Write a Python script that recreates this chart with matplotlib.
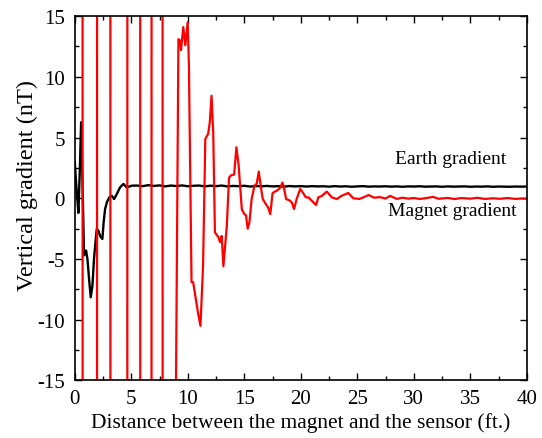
import matplotlib
matplotlib.use("Agg")
import matplotlib.pyplot as plt
import numpy as np
from matplotlib.ticker import MultipleLocator

font = {'family': 'Liberation Serif', 'size': 15}
matplotlib.rc("font", **font)
plt.rcParams['axes.unicode_minus'] = False

# Earth gradient (black)
earth_x = [0.0, 0.1, 0.2, 0.32, 0.45, 0.56, 0.7, 0.82, 1.0, 1.12, 1.25, 1.41, 1.56, 1.7,
           1.8, 1.95, 2.1, 2.24, 2.44, 2.55, 2.68, 2.85, 3.06, 3.27, 3.48, 3.72, 4.0, 4.3,
           4.6, 5.04, 5.5, 6.0, 6.5, 7.0, 7.5, 8.0, 8.5, 9.0, 9.5, 10.0, 10.5, 11.0, 11.5,
           12.0, 12.5, 13.0, 13.5, 14.0, 14.5, 15.0, 15.5, 16.0, 16.5, 17.0, 17.5, 18.0,
           18.5, 19.0, 19.5, 20.0, 20.5, 21.0, 21.5, 22.0, 22.5, 23.0, 23.5, 24.0, 24.5,
           25.0, 25.5, 26.0, 26.5, 27.0, 27.5, 28.0, 28.5, 29.0, 29.5, 30.0, 30.5, 31.0,
           31.5, 32.0, 32.5, 33.0, 33.5, 34.0, 34.5, 35.0, 35.5, 36.0, 36.5, 37.0, 37.5,
           38.0, 38.5, 39.0, 39.5, 40.0]
earth_y = [2.97, 1.5, 0.2, -1.2, 2.5, 6.26, 0.5, -4.7, -4.3, -5.0, -6.5, -8.15, -7.2, -5.0,
           -3.9, -2.5, -2.7, -3.1, -3.35, -2.0, -0.88, -0.3, 0.08, 0.21, -0.06, 0.35, 0.9, 1.18,
           0.9, 1.04, 1.05, 1.0, 1.08, 1.02, 1.06, 0.98, 1.05, 1.01, 1.06, 0.99, 1.03, 1.05, 0.98,
           1.04, 1.0, 1.05, 0.98, 1.02, 1.0, 1.03, 0.97, 1.01, 0.99, 1.02, 0.98, 1.0, 0.96,
           1.01, 0.98, 1.0, 0.97, 1.0, 0.98, 0.99, 0.96, 1.0, 0.97, 0.99, 0.95, 0.98, 1.0,
           0.96, 0.98, 0.97, 0.99, 0.96, 0.98, 0.95, 0.98, 0.97, 0.99, 0.96, 0.97, 0.98, 0.95,
           0.98, 0.96, 0.97, 0.98, 0.95, 0.97, 0.96, 0.98, 0.95, 0.97, 0.96, 0.95, 0.97, 0.96, 0.97]

# Magnet gradient (red)
magnet_x = [0.0, 0.68, 0.70, 1.96, 1.98, 3.14, 3.16, 4.64, 4.66, 5.78, 5.80, 6.78, 6.80,
            7.76, 7.78, 8.62, 9.17, 9.32, 9.40, 9.60, 9.78, 9.99, 10.10, 10.33, 10.47, 10.90,
            11.12, 11.35, 11.55, 11.80, 11.95, 12.10, 12.25, 12.40, 12.70, 12.85, 13.00,
            13.15, 13.45, 13.65, 13.83, 14.10, 14.30, 14.50, 14.78, 15.00, 15.15, 15.30,
            15.45, 15.65, 15.90, 16.10, 16.28, 16.45, 16.63, 16.90, 17.10, 17.30, 17.50,
            17.70, 17.90, 18.20, 18.37, 18.50, 18.70, 19.00, 19.20, 19.40, 19.65, 19.95,
            20.20, 20.45, 20.67, 20.97, 21.35, 21.55, 21.86, 22.30, 22.74, 23.20, 23.60,
            24.20, 24.65, 25.20, 25.60, 26.00, 26.50, 27.00, 27.50, 27.90, 28.50, 29.00,
            29.50, 30.00, 30.50, 31.00, 31.70, 32.20, 33.00, 33.60, 34.20, 35.00, 35.60,
            36.30, 37.00, 37.60, 38.30, 39.00, 39.50, 40.00]
magnet_y = [100, 100, -100, -100, 100, 100, -100, -100, 100, 100, -100, -100, 100,
            100, -100, -60, 13.1, 13.0, 12.2, 14.1, 12.6, 14.5, 10.9, -6.9, -6.9, -9.4,
            -10.5, -5.56, 4.9, 5.3, 6.3, 8.45, 5.4, -2.8, -3.2, -3.6, -3.1,
            -5.6, -2.3, 1.7, 1.9, 1.95, 4.2, 2.7, -0.9, -1.3, -1.4, -2.5,
            -2.0, -0.06, 1.04, 1.2, 2.2, 1.04, -0.05, -0.47, -0.74, -1.3, 0.43,
            0.55, 0.63, 0.9, 1.3, 0.9, -0.06, -0.17, -0.33, -0.88, 0.0, 0.77,
            0.44, 0.08, 0.08, -0.2, -0.55, 0.08, 0.2, 0.55, 0.08, -0.06, 0.2,
            0.44, 0.0, -0.05, 0.1, 0.27, 0.05, 0.1, -0.02, 0.2, -0.05, 0.05,
            -0.03, 0.02, -0.05, 0.0, 0.12, -0.04, 0.03, -0.06, 0.02, -0.03, 0.04,
            -0.05, 0.0, -0.04, 0.02, -0.05, -0.02, -0.04]

fig = plt.figure(figsize=(5.42, 4.39), dpi=100)
ax = fig.add_axes([0.138, 0.131, 0.834, 0.830])

ax.plot(earth_x, earth_y, color='k', lw=1.7)
ax.plot(magnet_x, magnet_y, color='#ff0000', lw=1.6)

ax.text(28.3, 3.24, 'Earth gradient', va='center', ha='left', fontsize=14)
ax.text(27.7, -1.0, 'Magnet gradient', va='center', ha='left', fontsize=14)

ax.set_xlim(0, 40)
ax.set_ylim(-15, 15)
ax.xaxis.set_major_locator(MultipleLocator(5))
ax.xaxis.set_minor_locator(MultipleLocator(2.5))
ax.yaxis.set_major_locator(MultipleLocator(5))
ax.yaxis.set_minor_locator(MultipleLocator(2.5))
ax.tick_params(which='both', direction='in', top=True, right=True, width=1)
ax.tick_params(which='major', length=5)
ax.tick_params(which='minor', length=3)
ax.tick_params(axis='x', pad=6)
ax.tick_params(axis='y', pad=7)
for s in ax.spines.values():
    s.set_linewidth(1.2)

ax.set_xlabel('Distance between the magnet and the sensor (ft.)', fontsize=15.5, labelpad=3)
ax.set_ylabel('Vertical gradient (nT)', fontsize=17.5)
ax.yaxis.set_label_coords(-0.081, 0.538)

plt.savefig('out.png', dpi=100)
